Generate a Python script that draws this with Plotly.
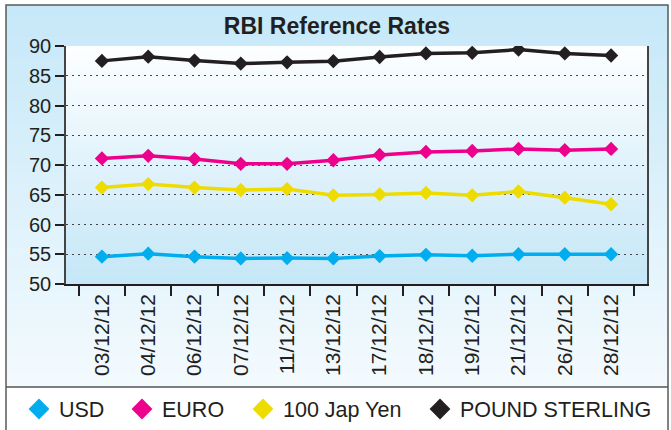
import plotly.graph_objects as go

# ---------------- data ----------------
dates = ["03/12/12", "04/12/12", "06/12/12", "07/12/12", "11/12/12", "13/12/12",
         "17/12/12", "18/12/12", "19/12/12", "21/12/12", "26/12/12", "28/12/12"]
usd = [54.6, 55.1, 54.6, 54.3, 54.35, 54.3, 54.7, 54.9, 54.75, 55.0, 55.0, 55.0]
euro = [71.1, 71.55, 71.0, 70.2, 70.2, 70.8, 71.7, 72.2, 72.35, 72.7, 72.5, 72.7]
yen = [66.2, 66.8, 66.2, 65.8, 65.95, 64.9, 65.05, 65.3, 64.9, 65.55, 64.5, 63.4]
pound = [87.5, 88.2, 87.55, 87.05, 87.25, 87.45, 88.15, 88.75, 88.85, 89.4, 88.75, 88.4]

series_names = ["USD", "EURO", "100 Jap Yen", "POUND STERLING"]
series_values = [usd, euro, yen, pound]
series_colors = ["#00aeef", "#ec008c", "#eedc00", "#231f20"]

FONT = "Liberation Sans, Arial, sans-serif"
W, H = 671, 430
ML, MR, MT, MB = 66, 24, 46, 146
PW, PH = W - ML - MR, H - MT - MB


def px_x(px):
    return (px - ML) / PW


def px_y(py):
    return (H - MB - py) / PH


def lerp(c1, c2, t):
    a = [int(c1[i:i + 2], 16) for i in (1, 3, 5)]
    b = [int(c2[i:i + 2], 16) for i in (1, 3, 5)]
    return "rgb(%d,%d,%d)" % tuple(round(a[k] + (b[k] - a[k]) * t) for k in range(3))


shapes = []
# outer panel gradient
N = 60
top, bot = 5, 387
for i in range(N):
    y0 = top + (bot - top) * i / N
    y1 = top + (bot - top) * (i + 1) / N + 0.5
    shapes.append(dict(type="rect", xref="paper", yref="paper", layer="below",
                       x0=px_x(6), x1=px_x(668), y0=px_y(y1), y1=px_y(y0),
                       line=dict(width=0), fillcolor=lerp("#c6e8f8", "#f3fafe", i / (N - 1))))
# plot area gradient
M = 40
for i in range(M):
    y0 = 1 - i / M
    y1 = 1 - (i + 1) / M - 0.004
    shapes.append(dict(type="rect", xref="paper", yref="paper", layer="below",
                       x0=0, x1=1, y0=y1, y1=y0,
                       line=dict(width=0), fillcolor=lerp("#fcfeff", "#c6e7f7", i / (M - 1))))
# separator + frame
shapes.append(dict(type="line", xref="paper", yref="paper", layer="above",
                   x0=px_x(6), x1=px_x(668), y0=px_y(387), y1=px_y(387),
                   line=dict(color="#555555", width=1.5)))
shapes.append(dict(type="rect", xref="paper", yref="paper", layer="above",
                   x0=px_x(6), x1=px_x(668), y0=px_y(445), y1=px_y(5),
                   line=dict(color="#5a5a5a", width=1.5), fillcolor="rgba(0,0,0,0)"))

fig = go.Figure()
for name, vals, col in zip(series_names, series_values, series_colors):
    fig.add_trace(go.Scatter(
        x=dates, y=vals, name=name, mode="lines+markers", showlegend=False,
        line=dict(color=col, width=3.5),
        marker=dict(symbol="diamond", size=11, color=col)))

legend_ids = ["legend", "legend2", "legend3", "legend4"]
legend_sym_x = [39, 142, 263, 440]
legend_layouts = {}
for lid, name, col, sx in zip(legend_ids, series_names, series_colors, legend_sym_x):
    fig.add_trace(go.Scatter(
        x=[None], y=[None], name=name, mode="markers", legend=lid,
        marker=dict(symbol="diamond", size=16, color=col)))
    legend_layouts[lid] = dict(
        xref="container", yref="container", x=(sx - 20) / W, y=1 - 409 / H,
        xanchor="left", yanchor="middle", orientation="h",
        bgcolor="rgba(0,0,0,0)", borderwidth=0,
        font=dict(family=FONT, size=21.5, color="#231f20"))

fig.update_layout(
    width=W, height=H,
    margin=dict(l=ML, r=MR, t=MT, b=MB, pad=0),
    paper_bgcolor="white",
    plot_bgcolor="rgba(0,0,0,0)",
    title=dict(text="<b>RBI Reference Rates</b>", xref="container", yref="container",
               x=337 / W, y=1 - 26 / H, xanchor="center", yanchor="middle",
               font=dict(family=FONT, size=23, color="#231f20")),
    font=dict(family=FONT, color="#231f20"),
    shapes=shapes,
    **legend_layouts,
)
fig.update_xaxes(
    type="category", categoryorder="array", categoryarray=dates,
    tickson="boundaries", ticks="outside", ticklen=10, tickwidth=1.5, tickcolor="#231f20",
    tickangle=-90, tickfont=dict(family=FONT, size=21, color="#231f20"),
    showline=True, linecolor="#231f20", linewidth=1.5, showgrid=False,
)
fig.update_yaxes(
    range=[50, 90], dtick=5, tick0=50,
    ticks="outside", ticklen=9, tickwidth=1.5, tickcolor="#231f20",
    tickfont=dict(family=FONT, size=20, color="#231f20"),
    showline=True, linecolor="#444444", linewidth=1.5, mirror=True,
    showgrid=True, gridcolor="#444444", gridwidth=1.2, griddash="2px,4px",
    zeroline=False,
)

fig.write_html("out.html", config={"displayModeBar": False},
               post_script="document.body.style.margin='0px';document.body.style.overflow='hidden';")
